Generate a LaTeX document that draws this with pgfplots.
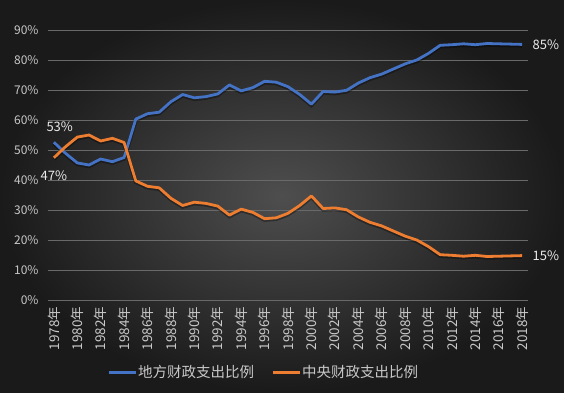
\documentclass[border=0pt]{standalone}
\usepackage{pgfplots}
\pgfplotsset{compat=1.18}
\usepackage{fontspec}
\setmainfont{Noto Sans CJK SC}
\definecolor{bgin}{RGB}{78,78,78}
\definecolor{bgout}{RGB}{26,26,26}
\definecolor{blueL}{RGB}{68,114,196}
\definecolor{orangeL}{RGB}{237,125,49}
\definecolor{tickc}{RGB}{200,200,200}
\definecolor{gridc}{RGB}{105,105,105}
\pgfplotstableread{
year local central
1978 52.6 47.4
1979 48.9 51.1
1980 45.7 54.3
1981 45.0 55.0
1982 47.0 53.0
1983 46.1 53.9
1984 47.5 52.5
1985 60.3 39.7
1986 62.1 37.9
1987 62.6 37.4
1988 66.1 33.9
1989 68.5 31.5
1990 67.4 32.6
1991 67.8 32.2
1992 68.7 31.3
1993 71.7 28.3
1994 69.7 30.3
1995 70.8 29.2
1996 72.9 27.1
1997 72.6 27.4
1998 71.1 28.9
1999 68.5 31.5
2000 65.3 34.7
2001 69.5 30.5
2002 69.3 30.7
2003 69.9 30.1
2004 72.3 27.7
2005 74.1 25.9
2006 75.3 24.7
2007 77.0 23.0
2008 78.7 21.3
2009 80.0 20.0
2010 82.2 17.8
2011 84.9 15.1
2012 85.1 14.9
2013 85.4 14.6
2014 85.1 14.9
2015 85.5 14.5
2016 85.4 14.6
2017 85.3 14.7
2018 85.2 14.8
}\datatable
\begin{document}
\begin{tikzpicture}
\shade[inner color=bgin, outer color=bgout] (0pt,0pt) rectangle (564pt,392pt);
\begin{axis}[
  at={(48pt,92pt)}, anchor=south west,
  scale only axis, width=480pt, height=270pt,
  xmin=1977.5, xmax=2018.5, ymin=0, ymax=90,
  axis line style={draw=none},
  major tick length=0pt,
  ymajorgrids, grid style={gridc, line width=0.6pt},
  ytick={0,10,...,90},
  yticklabels={0\%,10\%,20\%,30\%,40\%,50\%,60\%,70\%,80\%,90\%},
  yticklabel style={font=\fontsize{12}{14}\selectfont, text=tickc, xshift=-6pt},
  xtick={1978,1980,...,2018},
  xticklabels={1978年,1980年,1982年,1984年,1986年,1988年,1990年,1992年,1994年,1996年,1998年,2000年,2002年,2004年,2006年,2008年,2010年,2012年,2014年,2016年,2018年},
  xticklabel style={font=\fontsize{13.5}{15}\selectfont, text=tickc, rotate=90, anchor=east},
  xticklabel shift=3pt,
  legend style={at={(0.448,-0.267)}, anchor=center, draw=none, fill=none,
    text=tickc, font=\fontsize{14.5}{16}\selectfont,
    nodes={inner xsep=1pt},
    /tikz/every even column/.append style={column sep=16pt}},
  legend columns=2,
  legend image code/.code={\draw[#1, line width=3pt] (0pt,0pt) -- (27pt,0pt);},
  clip=false,
]
\addplot[forget plot, black, opacity=0.35, line width=4pt, yshift=-1.2pt] table[x=year,y=local]{\datatable};
\addplot[forget plot, black, opacity=0.35, line width=4pt, yshift=-1.2pt] table[x=year,y=central]{\datatable};
\addplot[blueL, line width=2.8pt, line join=round] table[x=year,y=local]{\datatable};
\addlegendentry{地方财政支出比例}
\addplot[orangeL, line width=2.8pt, line join=round] table[x=year,y=central]{\datatable};
\addlegendentry{中央财政支出比例}
\node[text=white!92!black, font=\fontsize{13}{15}\selectfont] at (axis cs:1978.5,57.8) {53\%};
\node[text=white!92!black, font=\fontsize{13}{15}\selectfont] at (axis cs:1978,41.5) {47\%};
\node[text=white!92!black, font=\fontsize{13}{15}\selectfont, anchor=west] at (axis cs:2018.6,85.2) {85\%};
\node[text=white!92!black, font=\fontsize{13}{15}\selectfont, anchor=west] at (axis cs:2018.6,14.8) {15\%};
\end{axis}
\end{tikzpicture}
\end{document}
